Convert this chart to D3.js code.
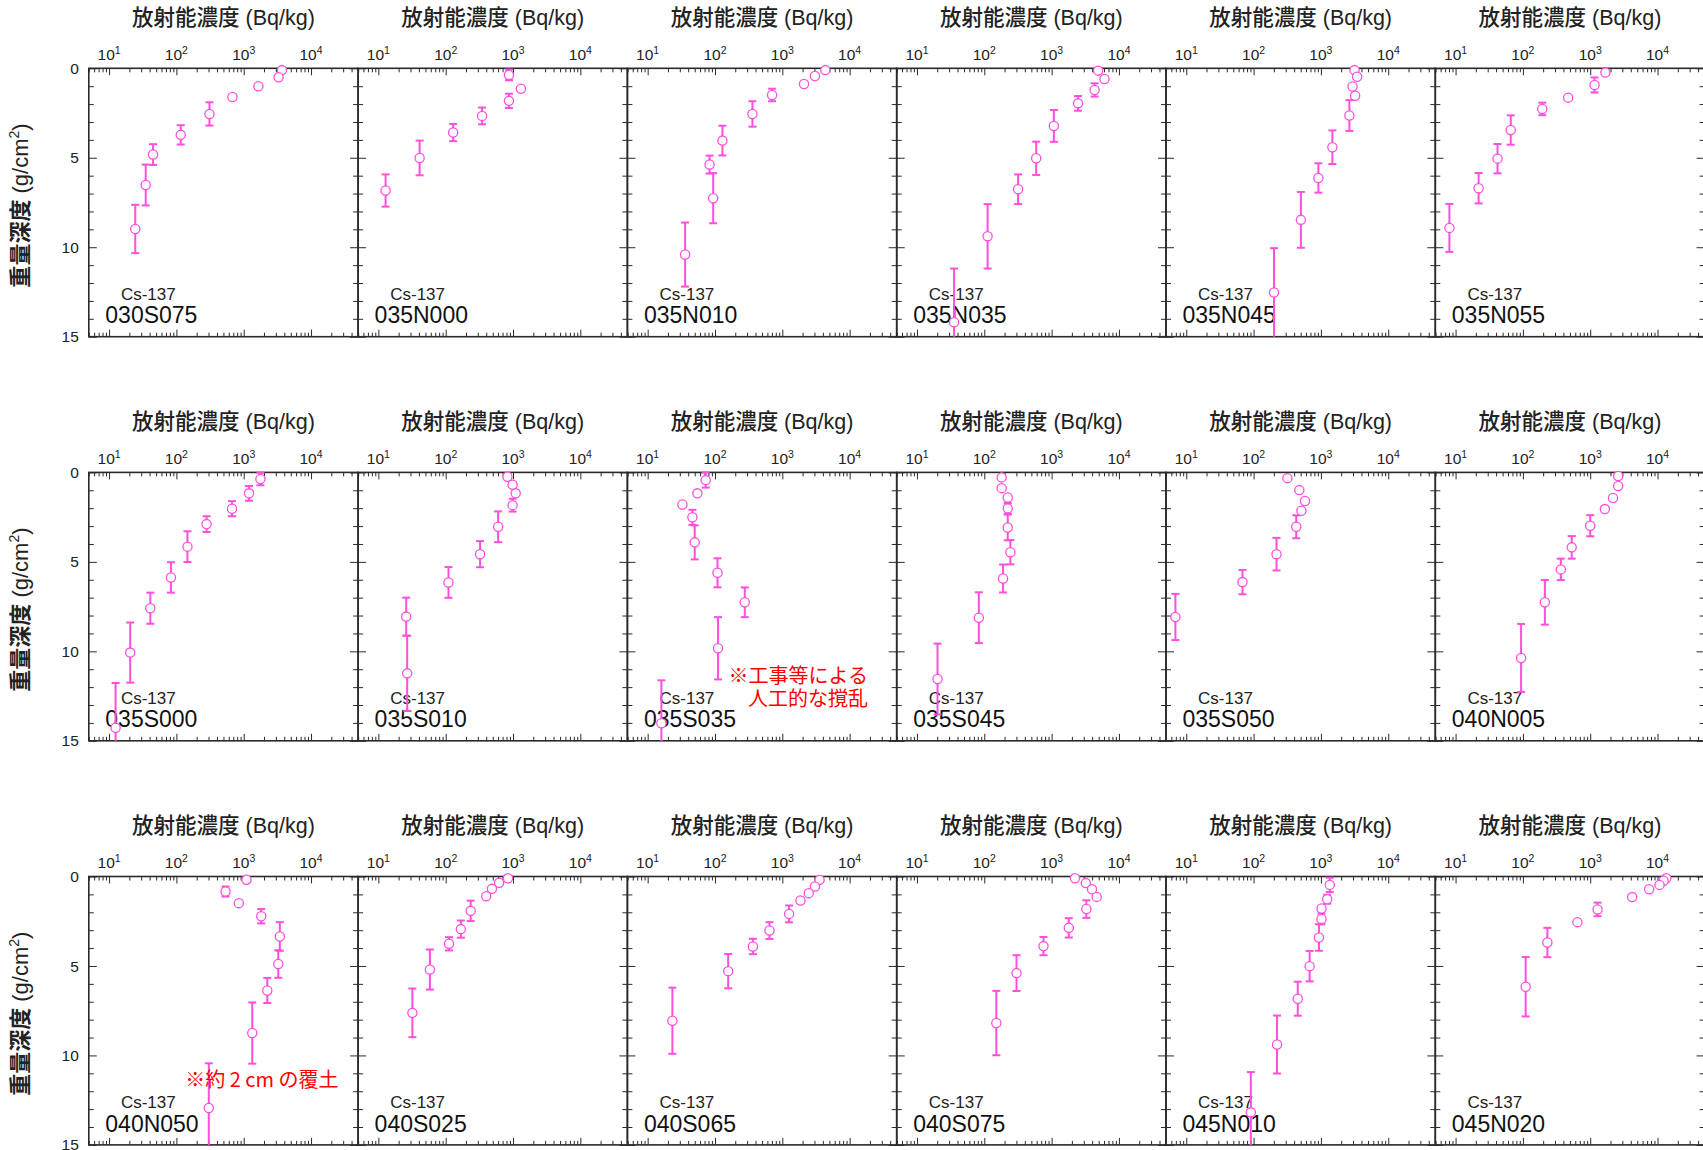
<!DOCTYPE html>
<html>
<head>
<meta charset="utf-8">
<script src="https://cdn.jsdelivr.net/npm/d3@7"></script>
<style>
  body { margin: 0; background: #fff; }
  svg { display: block; font-family: "Liberation Sans", Arial, "Noto Sans CJK JP", sans-serif; }
</style>
</head>
<body>
<svg id="chart" width="1703" height="1150"></svg>
<script>
// Cs-137 depth profiles: each entry is [mass depth (g/cm2), concentration (Bq/kg), depth error (g/cm2)]
const s030S075 = [[0.1,3700,0],[0.5,3300,0],[1.0,1650,0],[1.6,680,0],[2.55,310,0.65],[3.72,116,0.54],[4.82,45,0.58],[6.52,35,1.14],[8.98,24.5,1.35]];
const s035N000 = [[0.37,870,0.3],[1.14,1310,0],[1.82,870,0.4],[2.66,347,0.47],[3.59,129,0.48],[5.01,41,0.97],[6.83,12.8,0.9]];
const s035N010 = [[0.1,4350,0],[0.43,3050,0],[0.88,2100,0],[1.49,705,0.35],[2.55,360,0.71],[4.04,129,0.83],[5.38,83,0.5],[7.26,94,1.4],[10.41,36,1.79]];
const s035N035 = [[0.13,4900,0],[0.6,6100,0],[1.21,4350,0.37],[1.96,2470,0.41],[3.22,1080,0.89],[5.03,590,0.93],[6.76,318,0.83],[9.39,112,1.8],[14.19,35.6,3.0]];
const s035N045 = [[0.1,3160,0],[0.47,3450,0],[1.02,2950,0],[1.53,3220,0],[2.64,2650,0.86],[4.41,1480,0.94],[6.13,918,0.82],[8.47,504,1.56],[12.53,201,2.48]];
const s035N055 = [[0.24,1680,0],[0.93,1160,0.42],[1.64,470,0],[2.27,194,0.35],[3.45,66,0.82],[5.05,42,0.82],[6.7,22,0.85],[8.92,8.1,1.34]];
const s035S000 = [[0.37,1770,0.35],[1.17,1200,0.41],[2.03,670,0.42],[2.89,281,0.44],[4.15,146,0.86],[5.87,83,0.85],[7.59,41,0.87],[10.07,20.6,1.68],[14.27,12.5,2.5]];
const s035S010 = [[0.24,826,0],[0.69,986,0],[1.17,1096,0],[1.83,986,0.36],[3.04,601,0.86],[4.57,324,0.73],[6.15,110,0.86],[8.06,25.9,1.06],[11.23,26.8,2.1]];
const s035S035 = [[0.43,72.8,0.42],[1.17,54.8,0],[1.79,32.8,0],[2.51,46.2,0.42],[3.91,50,0.95],[5.61,109,0.81],[7.26,277,0.83],[9.83,111,1.74],[14.02,16,2.4]];
const s035S045 = [[0.28,181,0],[0.88,181,0],[1.4,223,0],[2.01,223,0.3],[3.08,223,0.72],[4.46,244,0.68],[5.93,190,0.78],[8.12,83,1.42],[11.55,20.2,1.98]];
const s035S050 = [[0.32,318,0],[0.99,478,0],[1.6,580,0],[2.14,513,0],[3.04,430,0.64],[4.57,219,0.91],[6.13,68.4,0.68],[8.08,6.9,1.29]];
const s040N005 = [[0.2,2600,0],[0.76,2600,0],[1.43,2180,0],[2.05,1650,0],[2.98,1000,0.59],[4.19,531,0.63],[5.42,366,0.6],[7.26,212,1.25],[10.37,94,1.9]];
const s040N050 = [[0.18,1100,0],[0.84,537,0.28],[1.49,847,0],[2.22,1820,0.4],[3.35,3440,0.8],[4.89,3260,0.77],[6.37,2240,0.7],[8.75,1340,1.71],[12.94,303,2.5]];
const s040S025 = [[0.1,841,0],[0.35,622,0],[0.69,486,0],[1.1,400,0],[1.92,235,0.57],[2.94,168,0.48],[3.76,112,0.37],[5.2,58.3,1.12],[7.62,32,1.36]];
const s040S065 = [[0.19,3580,0],[0.56,3050,0],[0.93,2470,0],[1.34,1860,0],[2.09,1260,0.47],[3.02,645,0.47],[3.91,366,0.43],[5.29,157,0.96],[8.06,23.3,1.85]];
const s040S075 = [[0.1,2220,0],[0.37,3220,0],[0.71,3980,0],[1.14,4670,0],[1.82,3280,0.49],[2.87,1800,0.54],[3.89,757,0.51],[5.4,301,1.0],[8.19,151,1.8]];
const s045N010 = [[0.47,1355,0.4],[1.27,1240,0.25],[1.79,1020,0],[2.37,1020,0.3],[3.41,935,0.74],[5.01,680,0.85],[6.83,453,0.95],[9.39,223,1.62],[13.18,91,2.25]];
const s045N020 = [[0.1,13500,0],[0.24,12300,0],[0.47,10700,0],[0.71,7500,0],[1.15,4200,0],[1.84,1285,0.38],[2.55,645,0],[3.69,231,0.82],[6.16,110,1.66]];

// Site codes in reading order (6 per row) and their profiles
const siteNames = ["030S075","035N000","035N010","035N035","035N045","035N055",
                   "035S000","035S010","035S035","035S045","035S050","040N005",
                   "040N050","040S025","040S065","040S075","045N010","045N020"];
const siteData = [s030S075,s035N000,s035N010,s035N035,s035N045,s035N055,
                  s035S000,s035S010,s035S035,s035S045,s035S050,s040N005,
                  s040N050,s040S025,s040S065,s040S075,s045N010,s045N020];

// Axis ticks
const xMajorTicks = [10, 100, 1000, 10000];
const xTickExponents = ["1", "2", "3", "4"];
const yTicks = d3.range(0, 16);
const yLabelTicks = [0, 5, 10, 15];

// Notes written on particular panels
const notes = [
  { site: "035S035", lines: ["※工事等による", "人工的な撹乱"], anchor: "end", x: 240.6, y: [211, 234] },
  { site: "040N050", lines: ["※約 2 cm の覆土"], anchor: "start", x: 96.5, y: [210.5] }
];

const xTitle = "放射能濃度 (Bq/kg)";
const isotope = "Cs-137";

// ---- layout ----
const left0 = 88.8, pw = 269.3, top0 = 68.3, ph = 268.4, rowStep = 404.1;
const markColor = "#ff4fdc";
const frameColor = "#2a2a2a";

const x = d3.scaleLog().domain([5, 50000]).range([0, pw]);
const y = d3.scaleLinear().domain([0, 15]).range([0, ph]);

const xMinorTicks = [];
for (let e = 0; e <= 4; e++) {
  for (let m = 2; m <= 9; m++) {
    const v = m * Math.pow(10, e);
    if (v >= 5 && v <= 50000) xMinorTicks.push(v);
  }
}
const yMajor = yLabelTicks;
const yMinor = yTicks.filter(v => !yMajor.includes(v));

const svg = d3.select("#chart");

function styleAxis(sel) {
  sel.select(".domain").remove();
  sel.selectAll(".tick line").attr("stroke", frameColor).attr("stroke-width", 1);
  sel.selectAll(".tick text").remove();
}

siteNames.forEach((name, i) => {
  const col = i % 6, row = Math.floor(i / 6);
  const g = svg.append("g")
    .attr("transform", `translate(${left0 + col * pw},${top0 + row * rowStep})`);

  // ticks on all four sides, pointing inward
  g.append("g").call(d3.axisTop(x).tickValues(xMajorTicks).tickSize(-7).tickSizeOuter(0)).call(styleAxis);
  g.append("g").call(d3.axisTop(x).tickValues(xMinorTicks).tickSize(-4).tickSizeOuter(0)).call(styleAxis);
  g.append("g").attr("transform", `translate(0,${ph})`)
    .call(d3.axisBottom(x).tickValues(xMajorTicks).tickSize(-7).tickSizeOuter(0)).call(styleAxis);
  g.append("g").attr("transform", `translate(0,${ph})`)
    .call(d3.axisBottom(x).tickValues(xMinorTicks).tickSize(-4).tickSizeOuter(0)).call(styleAxis);
  g.append("g").call(d3.axisLeft(y).tickValues(yMajor).tickSize(-8).tickSizeOuter(0)).call(styleAxis);
  g.append("g").call(d3.axisLeft(y).tickValues(yMinor).tickSize(-5).tickSizeOuter(0)).call(styleAxis);
  g.append("g").attr("transform", `translate(${pw},0)`)
    .call(d3.axisRight(y).tickValues(yMajor).tickSize(-8).tickSizeOuter(0)).call(styleAxis);
  g.append("g").attr("transform", `translate(${pw},0)`)
    .call(d3.axisRight(y).tickValues(yMinor).tickSize(-5).tickSizeOuter(0)).call(styleAxis);

  // frame
  g.append("rect").attr("x", 0).attr("y", 0).attr("width", pw).attr("height", ph)
    .attr("fill", "none").attr("stroke", frameColor).attr("stroke-width", 1.6);

  // top tick labels 10^n
  const xl = g.selectAll("text.xl").data(xMajorTicks).join("text")
    .attr("class", "xl")
    .attr("x", d => x(d)).attr("y", -8.5)
    .attr("text-anchor", "middle")
    .attr("font-size", 15.5).attr("fill", "#222");
  xl.append("tspan").text("10");
  xl.append("tspan").attr("font-size", 10.5).attr("dy", -6).text((d, j) => xTickExponents[j]);

  // axis title above each panel
  g.append("text").attr("x", pw / 2).attr("y", -43.5)
    .attr("text-anchor", "middle").attr("font-size", 21.5).attr("fill", "#222")
    .attr("font-weight", 500)
    .text(xTitle);

  // depth labels and title on the first column only
  if (col === 0) {
    g.selectAll("text.yl").data(yLabelTicks).join("text")
      .attr("class", "yl")
      .attr("x", -10).attr("y", d => y(d))
      .attr("dy", "0.36em")
      .attr("text-anchor", "end").attr("font-size", 15.5).attr("fill", "#222")
      .text(d => d);
    const yt = g.append("text")
      .attr("transform", `translate(${28 - left0},${ph / 2 + 3}) rotate(-90)`)
      .attr("text-anchor", "middle").attr("font-size", 22).attr("fill", "#222");
    yt.append("tspan").attr("font-weight", "bold").text("重量深度");
    yt.append("tspan").text(" (g/cm");
    yt.append("tspan").attr("font-size", 14).attr("dy", -9).text("2");
    yt.append("tspan").attr("dy", 9).text(")");
  }

  // labels inside panel
  g.append("text").attr("x", 59.5).attr("y", 231.7)
    .attr("text-anchor", "middle").attr("font-size", 17).attr("fill", "#222")
    .text(isotope);
  g.append("text").attr("x", 16.5).attr("y", 255)
    .attr("font-size", 23).attr("fill", "#111")
    .text(name);

  const data = siteData[i];

  // error bars (clipped to the 0-15 depth range)
  const bars = data.filter(d => d[2] > 0);
  const capW = 4;
  bars.forEach(d => {
    const [dep, c, e] = d;
    const cx = x(c);
    const lo = Math.max(0, dep - e), hi = Math.min(15, dep + e);
    g.append("line").attr("x1", cx).attr("x2", cx)
      .attr("y1", y(lo)).attr("y2", y(hi))
      .attr("stroke", markColor).attr("stroke-width", 2);
    if (dep - e >= 0) {
      g.append("line").attr("x1", cx - capW).attr("x2", cx + capW)
        .attr("y1", y(dep - e)).attr("y2", y(dep - e))
        .attr("stroke", markColor).attr("stroke-width", 2);
    }
    if (dep + e <= 15) {
      g.append("line").attr("x1", cx - capW).attr("x2", cx + capW)
        .attr("y1", y(dep + e)).attr("y2", y(dep + e))
        .attr("stroke", markColor).attr("stroke-width", 2);
    }
  });

  // open circle markers
  g.selectAll("circle.pt").data(data).join("circle")
    .attr("class", "pt")
    .attr("cx", d => x(d[1])).attr("cy", d => y(d[0]))
    .attr("r", 4.6)
    .attr("fill", "#fff").attr("stroke", markColor).attr("stroke-width", 1.3);

  // notes
  notes.filter(n => n.site === name).forEach(n => {
    n.lines.forEach((line, k) => {
      g.append("text").attr("x", n.x).attr("y", n.y[k])
        .attr("text-anchor", n.anchor).attr("font-size", 20)
        .attr("fill", "#ff0000")
        .attr("font-family", "'Noto Sans CJK JP', sans-serif")
        .text(line);
    });
  });
});
</script>
</body>
</html>
